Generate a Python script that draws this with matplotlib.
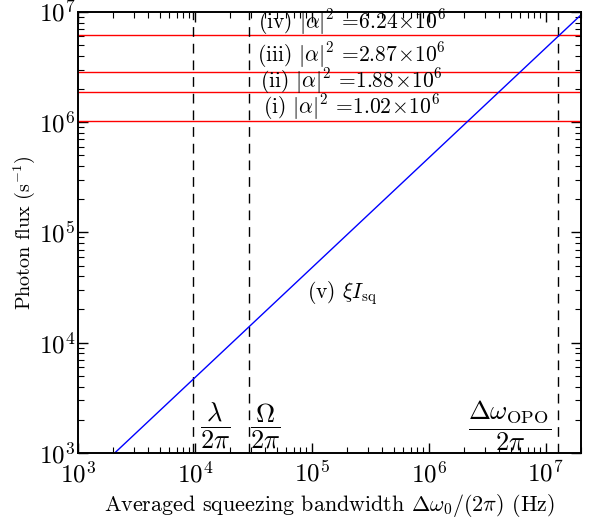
import matplotlib
matplotlib.use("Agg")
import matplotlib.pyplot as plt

plt.rcParams['font.family'] = 'serif'
plt.rcParams['font.serif'] = ['cmr10']
plt.rcParams['mathtext.fontset'] = 'cm'
plt.rcParams['axes.formatter.use_mathtext'] = True

# squeezed-light flux (v) at its two ends
bw_sq = [2.07e3, 2.0e7]
flux_sq = [1.0e3, 9.4e6]

# coherent photon fluxes |alpha|^2
alpha_labels = ['(i)', '(ii)', '(iii)', '(iv)']
alpha_flux = [1.02e6, 1.88e6, 2.87e6, 6.24e6]
alpha_text = ['1.02', '1.88', '2.87', '6.24']
alpha_label_y = [1.37e6, 2.37e6, 4.07e6, 8.1e6]

# characteristic bandwidths (Hz)
marker_bw = [9.7e3, 2.93e4, 1.28e7]
marker_text = [r'$\dfrac{\lambda}{2\pi}$', r'$\dfrac{\Omega}{2\pi}$',
               r'$\dfrac{\Delta\omega_{\rm OPO}}{2\pi}$']
marker_text_x = [1.5e4, 4.0e4, 4.9e6]

fig = plt.figure(figsize=(5.94, 5.2), dpi=100)
ax = fig.add_axes([0.131, 0.129, 0.847, 0.848])

for y in alpha_flux:
    ax.axhline(y, color='red', lw=1.0)
for lab, ly, t in zip(alpha_labels, alpha_label_y, alpha_text):
    ax.text(2.2e5, ly, lab + r' $|\alpha|^2$ =$' + t + r'\!\times\!10^6$',
            ha='center', va='center', fontsize=15.5)

for x in marker_bw:
    ax.axvline(x, color='black', lw=1.0, ls=(0, (7, 5)))
for x, t in zip(marker_text_x, marker_text):
    ax.text(x, 1.75e3, t, ha='center', va='center', fontsize=19)

ax.plot(bw_sq, flux_sq, color='blue', lw=1.0)
ax.text(9.1e4, 2.8e4, r'(v) $\xi I_{\rm sq}$', ha='left', va='center', fontsize=15.5)

ax.set_xscale('log')
ax.set_yscale('log')
ax.set_xlim(1e3, 2e7)
ax.set_ylim(1e3, 1e7)
ax.tick_params(which='both', direction='in', top=True, right=True, labelsize=18)
ax.tick_params(which='major', length=7, width=1)
ax.tick_params(which='minor', length=4, width=0.8)
ax.tick_params(axis='x', pad=6)
ax.tick_params(axis='y', pad=2)
for s in ax.spines.values():
    s.set_linewidth(1.4)

ax.set_xlabel(r'Averaged squeezing bandwidth $\Delta\omega_0/(2\pi)$ (Hz)', fontsize=15.9, labelpad=3)
ax.set_ylabel(r'Photon flux (s$^{-1}$)', fontsize=14.5, labelpad=1)

fig.savefig('out.png', dpi=100)
